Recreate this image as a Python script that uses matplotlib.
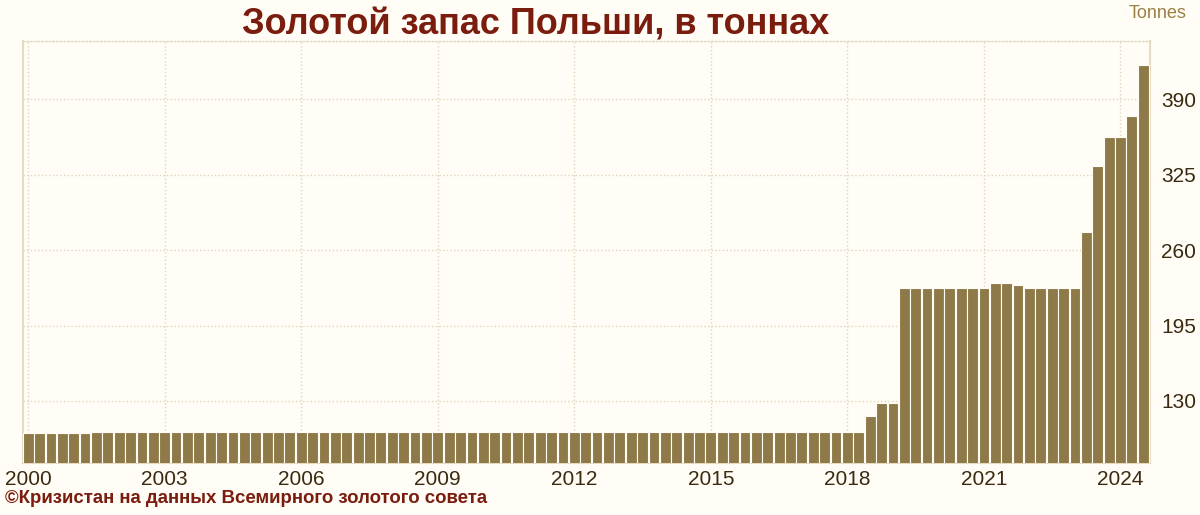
import matplotlib.pyplot as plt

# quarterly gold reserves of Poland, tonnes (2000 Q1 .. 2024 Q3)
years = list(range(2000, 2025))
tonnes = [
    102.4, 102.4, 102.4, 102.4,  # 2000
    102.4, 102.4, 103.3, 103.3,  # 2001
    103.3, 103.3, 103.3, 103.3,  # 2002
    103.3, 103.3, 103.3, 103.3,  # 2003
    103.3, 103.3, 103.3, 103.3,  # 2004
    103.3, 103.3, 103.3, 103.3,  # 2005
    103.3, 103.3, 103.3, 103.3,  # 2006
    103.3, 103.3, 103.3, 103.3,  # 2007
    103.3, 103.3, 103.3, 103.3,  # 2008
    103.3, 103.3, 103.3, 103.3,  # 2009
    103.3, 103.3, 103.3, 103.3,  # 2010
    103.3, 103.3, 103.3, 103.3,  # 2011
    103.3, 103.3, 103.3, 103.3,  # 2012
    103.3, 103.3, 103.3, 103.3,  # 2013
    103.3, 103.3, 103.3, 103.3,  # 2014
    103.3, 103.3, 103.3, 103.3,  # 2015
    103.3, 103.3, 103.3, 103.3,  # 2016
    103.3, 103.3, 103.3, 103.3,  # 2017
    103.3, 103.3, 116.8, 127.8,  # 2018
    127.8, 227.5, 227.5, 227.5,  # 2019
    227.5, 227.5, 227.5, 227.5,  # 2020
    227.5, 231.3, 231.3, 230.1,  # 2021
    227.5, 227.5, 227.5, 227.5,  # 2022
    227.5, 275.8, 332.5, 357.2,  # 2023
    357.2, 375.6, 419.3,         # 2024
]
tick_years = [2000, 2003, 2006, 2009, 2012, 2015, 2018, 2021, 2024]
y_ticks = [130, 195, 260, 325, 390]

quarters = [f"{y} Q{q}" for y in years for q in range(1, 5)][:len(tonnes)]

plt.rcParams['font.family'] = ['Liberation Sans', 'DejaVu Sans']
bg = "#fffdf5"
bar_col = "#8e7948"
text_col = "#3a2a10"
red = "#7a1c0e"
grid_col = "#ddd5bd"

fig = plt.figure(figsize=(12, 5.15), dpi=100, facecolor=bg)
ax = fig.add_axes([0.0192, 0.101, 0.9392, 0.8194], facecolor=bg)

xpos = list(range(len(tonnes)))
ax.bar(xpos, tonnes, width=0.95, color=bar_col, edgecolor=bg, linewidth=0.8, zorder=3)

ax.set_xlim(-0.45, 98.6)
ax.set_ylim(76.5, 440.3)

ax.set_xticks([quarters.index(f"{y} Q1") for y in tick_years])
ax.set_xticklabels([str(y) for y in tick_years])
ax.set_yticks(y_ticks)
ax.yaxis.tick_right()
ax.tick_params(axis='both', length=0, labelsize=15, colors=text_col)
ax.tick_params(axis='x', pad=5)
ax.tick_params(axis='y', pad=8)

ax.grid(True, color=grid_col, linestyle=':', linewidth=1, zorder=0)

for side in ['left', 'right', 'bottom']:
    ax.spines[side].set_color("#e6dcc4")
    ax.spines[side].set_linewidth(1.5)
ax.spines['top'].set_color(grid_col)
ax.spines['top'].set_linestyle(':')
ax.spines['top'].set_linewidth(1)

fig.text(0.446, 0.952, "Золотой запас Польши, в тоннах", ha='center', va='center',
         fontsize=26, fontweight='bold', color=red)
fig.text(0.989, 0.973, "Tonnes", ha='right', va='center', fontsize=13, color="#9a7f45")
fig.text(0.004, 0.033, "©Кризистан на данных Всемирного золотого совета", ha='left',
         va='center', fontsize=13.4, fontweight='bold', color=red)

fig.savefig("out.png", dpi=100, facecolor=bg)
